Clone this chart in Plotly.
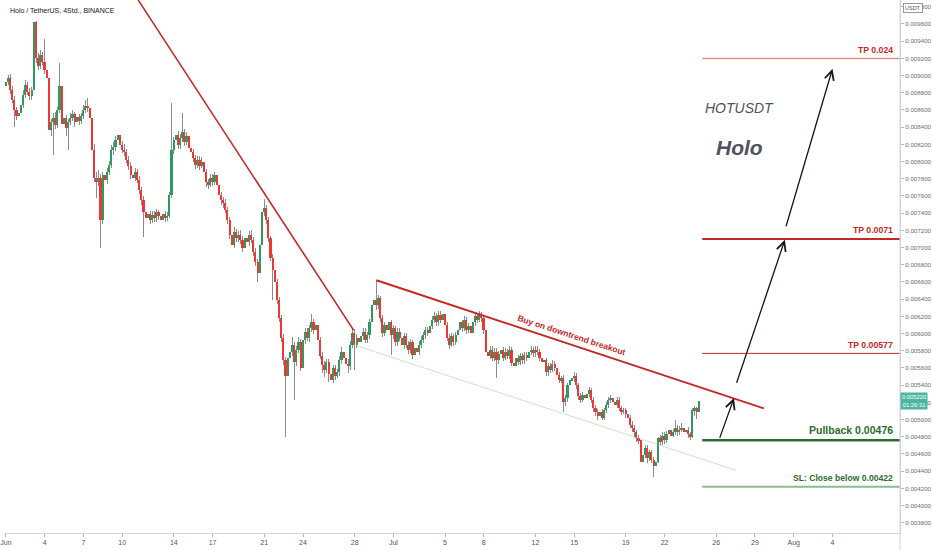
#
#   HOTUSDT 4h chart with trade idea drawings
#

import plotly.graph_objects as go
import pandas as pd

# -------- candle data (prices in 1e-6 USDT, 4h candles from 2021-06-01 00:00) -------- #
first_open = 8880

close = [
    8930, 8970, 8830, 8720, 8600, 8530,
    8570, 8660, 8770, 8890, 8810, 8760,
    8830, 9620, 9200, 9110, 9240, 9160,
    9060, 8970, 8370, 8460, 8510, 8430,
    8600, 8880, 8440, 8510, 8390, 8460,
    8510, 8550, 8460, 8520, 8470, 8530,
    8600, 8650, 8620, 8510, 8140, 7810,
    7760, 7810, 7320, 7840, 7790, 7880,
    7960, 8140, 8170, 8250, 8310, 8190,
    8140, 8110, 8020, 7950, 7840, 7810,
    7880, 7790, 7670, 7550, 7410, 7340,
    7390, 7320, 7380, 7340, 7410, 7370,
    7320, 7390, 7340, 7370, 7610, 8140,
    8250, 8310, 8190, 8270, 8340, 8230,
    8300, 8160, 8110, 8040, 7960, 8020,
    7950, 7990, 7880, 7760, 7730, 7810,
    7760, 7840, 7730, 7610, 7550, 7520,
    7440, 7320, 7150, 7030, 7180, 7110,
    7150, 7090, 7000, 7110, 7060, 7150,
    7090, 6950, 6830, 6710, 7030, 7410,
    7460, 7320, 7110, 6880, 6740, 6600,
    6390, 6180, 5950, 5690, 5510, 5720,
    5790, 5870, 5670, 5810, 5900, 5600,
    5920, 6020, 5950, 6060, 6130, 6040,
    6100, 5920, 5740, 5630, 5580, 5670,
    5530, 5460, 5600, 5510, 5550, 5690,
    5790, 5720, 5650, 5620, 5870, 6010,
    5870, 5950, 5900, 5970, 6020, 5930,
    5980, 6130, 6330, 6390, 6330, 6410,
    6180, 6010, 6100, 6040, 6130, 5980,
    6060, 5900, 6020, 5950, 5870, 5970,
    5870, 5810, 5900, 5750, 5830, 5790,
    5870, 5930, 5980, 6040, 6010, 6090,
    6160, 6200, 6130, 6220, 6160, 6230,
    6100, 5950, 5870, 5970, 5900, 5980,
    6040, 6130, 6060, 6160, 6040, 6090,
    6010, 6130, 6200, 6160, 6230, 6180,
    6040, 5790, 5740, 5810, 5720, 5790,
    5690, 5760, 5810, 5720, 5790, 5740,
    5810, 5660, 5620, 5720, 5670, 5740,
    5690, 5750, 5720, 5790, 5810, 5770,
    5810, 5790, 5720, 5670, 5690, 5550,
    5620, 5580, 5650, 5600, 5520, 5460,
    5480, 5200, 5250, 5400, 5460, 5480,
    5510, 5400, 5270, 5230, 5280, 5250,
    5300, 5340, 5230, 5130, 5090, 5040,
    5090, 5020, 5110, 5170, 5230, 5250,
    5200, 5170, 5230, 5130, 5090, 5110,
    5060, 5020, 4940, 4900, 4850, 4780,
    4760, 4510, 4590, 4670, 4550, 4620,
    4530, 4460, 4510, 4780, 4740, 4810,
    4760, 4830, 4880, 4810, 4850, 4900,
    4850, 4880, 4900, 4850, 4880, 4830,
    4800, 5110, 5130, 5090, 5220,
]

high = [
    9000, 9010, 9020, 8880, 8760, 8640,
    8610, 8700, 8830, 8950, 8920, 8850,
    8870, 9720, 9640, 9260, 9300, 9280,
    9420, 9110, 9000, 8500, 8560, 8580,
    8640, 9150, 8900, 8560, 8540, 8500,
    8560, 8600, 8580, 8560, 8550, 8570,
    8660, 8720, 8740, 8670, 8540, 8200,
    7880, 7900, 7850, 7880, 7900, 7930,
    8010, 8190, 8230, 8300, 8380, 8340,
    8240, 8200, 8150, 8060, 8000, 7900,
    7920, 7910, 7830, 7700, 7600, 7460,
    7430, 7420, 7420, 7430, 7450, 7440,
    7410, 7430, 7420, 7410, 7650, 8680,
    8290, 8370, 8350, 8320, 8560, 8380,
    8340, 8520, 8200, 8150, 8080, 8060,
    8060, 8050, 8030, 7910, 7800, 7860,
    7850, 7880, 7870, 7770, 7650, 7590,
    7560, 7470, 7350, 7210, 7240, 7220,
    7190, 7200, 7130, 7160, 7150, 7190,
    7200, 7120, 6990, 6870, 7060, 7630,
    7560, 7500, 7350, 7140, 6920, 6780,
    6640, 6430, 6220, 6000, 5730, 5760,
    5830, 5960, 5900, 5850, 5960, 5940,
    5960, 6070, 6060, 6100, 6230, 6170,
    6140, 6130, 5960, 5790, 5680, 5710,
    5700, 5580, 5640, 5630, 5590, 5740,
    5840, 5830, 5760, 5700, 5910, 6060,
    6050, 5990, 5990, 6010, 6070, 6060,
    6020, 6170, 6380, 6440, 6620, 6450,
    6440, 6220, 6140, 6150, 6170, 6160,
    6100, 6090, 6060, 6070, 5990, 6010,
    6010, 5910, 5940, 5930, 5870, 5860,
    5910, 5970, 6020, 6080, 6080, 6130,
    6200, 6250, 6240, 6260, 6260, 6360,
    6270, 6140, 5990, 6010, 6000, 6020,
    6080, 6170, 6160, 6200, 6190, 6120,
    6130, 6170, 6240, 6240, 6260, 6250,
    6220, 6080, 5830, 5850, 5850, 5830,
    5830, 5800, 5850, 5840, 5830, 5820,
    5850, 5840, 5700, 5760, 5750, 5780,
    5780, 5790, 5790, 5830, 5850, 5840,
    5850, 5860, 5820, 5750, 5730, 5720,
    5660, 5660, 5690, 5680, 5640, 5550,
    5510, 5520, 5290, 5430, 5500, 5550,
    5550, 5540, 5430, 5310, 5320, 5310,
    5330, 5380, 5370, 5260, 5170, 5120,
    5120, 5120, 5140, 5200, 5260, 5290,
    5570, 5230, 5260, 5260, 5160, 5140,
    5140, 5100, 5050, 4980, 4940, 4880,
    4820, 4790, 4620, 4700, 4700, 4650,
    4650, 4570, 4550, 4800, 4820, 4850,
    4850, 4870, 4940, 4920, 4890, 4990,
    4940, 4920, 4960, 4930, 4910, 4910,
    4860, 5140, 5160, 5150, 5240,
]

low = [
    8840, 8890, 8790, 8680, 8400, 8480,
    8470, 8530, 8620, 8740, 8780, 8720,
    8720, 8800, 9150, 9060, 9080, 9120,
    9020, 8930, 8020, 8300, 8080, 8380,
    8390, 8560, 8400, 8400, 8300, 8140,
    8420, 8470, 8400, 8420, 8430, 8440,
    8490, 8560, 8580, 8460, 8080, 7760,
    7580, 7720, 7000, 7280, 7720, 7740,
    7840, 7920, 8080, 8120, 8200, 8150,
    8100, 8060, 7980, 7900, 7800, 7740,
    7770, 7750, 7620, 7500, 7120, 7280,
    7290, 7270, 7290, 7300, 7300, 7320,
    7280, 7290, 7300, 7310, 7340, 7580,
    8090, 8200, 8150, 8150, 8230, 8180,
    8190, 8120, 8060, 7990, 7910, 7930,
    7900, 7920, 7840, 7700, 7680, 7700,
    7720, 7730, 7690, 7570, 7500, 7460,
    7400, 7280, 7100, 6900, 7000, 7060,
    7060, 7040, 6950, 6960, 7010, 7020,
    7050, 6900, 6790, 6600, 6680, 6990,
    7370, 7280, 7060, 6840, 6390, 6560,
    6340, 6130, 5900, 5640, 4800, 5480,
    5600, 5740, 5230, 5620, 5770, 5560,
    5560, 5880, 5910, 5900, 6020, 5990,
    6000, 5880, 5700, 5540, 5490, 5540,
    5440, 5320, 5420, 5460, 5480, 5510,
    5650, 5680, 5600, 5540, 5580, 5830,
    5580, 5830, 5860, 5870, 5930, 5890,
    5890, 5940, 6090, 6290, 6280, 6290,
    6140, 5960, 5970, 5990, 6000, 5750,
    5940, 5850, 5860, 5910, 5830, 5820,
    5830, 5760, 5780, 5700, 5710, 5740,
    5750, 5830, 5890, 5940, 5970, 5970,
    6050, 6120, 6090, 6090, 6120, 6130,
    6060, 5910, 5820, 5840, 5860, 5870,
    5940, 6000, 6020, 6030, 6000, 6010,
    5970, 5980, 6090, 6120, 6130, 6140,
    6000, 5750, 5690, 5700, 5680, 5680,
    5480, 5650, 5720, 5680, 5690, 5700,
    5700, 5620, 5550, 5580, 5630, 5640,
    5650, 5650, 5680, 5690, 5750, 5730,
    5730, 5750, 5680, 5620, 5640, 5510,
    5510, 5540, 5550, 5560, 5480, 5420,
    5420, 5090, 5160, 5210, 5360, 5430,
    5440, 5360, 5230, 5190, 5200, 5210,
    5210, 5260, 5190, 5090, 5040, 5000,
    5000, 4990, 4990, 5080, 5130, 5190,
    5160, 5130, 5140, 5100, 5050, 5060,
    5020, 4980, 4900, 4860, 4800, 4740,
    4720, 4410, 4470, 4550, 4500, 4520,
    4490, 4330, 4430, 4490, 4700, 4710,
    4720, 4730, 4800, 4770, 4800, 4820,
    4810, 4820, 4850, 4810, 4820, 4790,
    4760, 4780, 5040, 5010, 5080,
]

# -------- axis ticks -------- #
date_ticks = ["2021-06-01", "2021-06-04", "2021-06-07", "2021-06-10", "2021-06-14",
              "2021-06-17", "2021-06-21", "2021-06-24", "2021-06-28", "2021-07-01",
              "2021-07-05", "2021-07-08", "2021-07-12", "2021-07-15", "2021-07-19",
              "2021-07-22", "2021-07-26", "2021-07-29", "2021-08-01", "2021-08-04"]
date_labels = ["Jun", "4", "7", "10", "14", "17", "21", "24", "28", "Jul",
               "5", "8", "12", "15", "19", "22", "26", "29", "Aug", "4"]

# -------- drawings (time, price) -------- #
trend_down = [("2021-06-11 05:30", 0.00988), ("2021-06-27 22:00", 0.00604)]
trend_breakout = [("2021-06-29 16:30", 0.00662), ("2021-07-29 16:30", 0.00513)]
channel_low = [("2021-06-27 22:00", 0.00587), ("2021-07-27 13:00", 0.00441)]

level_start = "2021-07-24 22:00"
level_prices = [0.0092, 0.0071, 0.00577, 0.00476, 0.00422]
level_texts = ["TP 0.024", "TP 0.0071", "TP 0.00577", "Pullback 0.00476", "SL: Close below 0.00422"]
level_text_y = [0.00930, 0.00720, 0.00587, 0.00488, 0.00432]
level_colors = ["#e88a8a", "#c62828", "#c62828", "#2e6b2e", "#8dbb8d"]
level_text_colors = ["#c62828", "#c62828", "#c62828", "#2e6b2e", "#2e6b2e"]
level_widths = [1.5, 2, 1, 2.5, 2]
level_sizes = [8.7, 8.7, 8.7, 10.5, 8.6]

arrows = [
    (("2021-07-26 05:30", 0.00477), ("2021-07-27 09:00", 0.00525)),
    (("2021-07-27 13:00", 0.00541), ("2021-07-31 07:30", 0.00709)),
    (("2021-07-31 09:00", 0.00723), ("2021-08-04 00:00", 0.00908)),
]

x_range = ["2021-05-31 20:18", "2021-08-09 05:32"]
y_range = [0.003681, 0.009879]

FONT = "Liberation Sans, Arial, sans-serif"
RED = "#f03535"
GREEN = "#2e9b5e"


def main():
    scale = 1e-6
    t = pd.date_range("2021-06-01 00:00", periods=len(close), freq="4h")
    c = [v * scale for v in close]
    o = [first_open * scale] + c[:-1]
    h = [v * scale for v in high]
    l = [v * scale for v in low]

    body_base = [min(a, b) for a, b in zip(o, c)]
    body_len = [max(abs(a - b), 0.000004) for a, b in zip(o, c)]
    body_col = [GREEN if b >= a else RED for a, b in zip(o, c)]
    wick_len = [a - b for a, b in zip(h, l)]

    four_h = 4 * 3600 * 1000

    fig = go.Figure()
    # wicks
    fig.add_trace(go.Bar(x=t, y=wick_len, base=l, width=four_h * 0.35,
                         marker=dict(color="rgba(110,110,110,0.8)", line=dict(width=0)),
                         hoverinfo="skip", showlegend=False))
    # bodies
    fig.add_trace(go.Bar(x=t, y=body_len, base=body_base, width=four_h * 0.75,
                         marker=dict(color=body_col, line=dict(width=0)),
                         showlegend=False))

    # trend lines
    fig.add_shape(type="line", x0=trend_down[0][0], y0=trend_down[0][1],
                  x1=trend_down[1][0], y1=trend_down[1][1],
                  line=dict(color="#c62828", width=1.6))
    fig.add_shape(type="line", x0=trend_breakout[0][0], y0=trend_breakout[0][1],
                  x1=trend_breakout[1][0], y1=trend_breakout[1][1],
                  line=dict(color="#c62828", width=2))
    fig.add_shape(type="line", x0=channel_low[0][0], y0=channel_low[0][1],
                  x1=channel_low[1][0], y1=channel_low[1][1],
                  line=dict(color="rgba(130,200,130,0.45)", width=1))

    fig.add_annotation(x="2021-07-14 18:30", y=0.00598, text="<b>Buy on downtrend breakout</b>",
                       showarrow=False, textangle=18,
                       font=dict(family=FONT, size=8.5, color="#c62828"))

    # target / stop levels
    for p, txt, ty, lc, tc, w, s in zip(level_prices, level_texts, level_text_y,
                                         level_colors, level_text_colors, level_widths, level_sizes):
        fig.add_shape(type="line", x0=level_start, x1=x_range[1], y0=p, y1=p,
                      line=dict(color=lc, width=w))
        fig.add_annotation(xref="paper", x=897 / 902, xanchor="right", y=ty, yanchor="middle",
                           text="<b>" + txt + "</b>", showarrow=False,
                           font=dict(family=FONT, size=s, color=tc))

    for tail, head in arrows:
        fig.add_annotation(x=head[0], y=head[1], ax=tail[0], ay=tail[1],
                           axref="x", ayref="y", xref="x", yref="y", text="",
                           showarrow=True, arrowhead=5, arrowsize=1.4, arrowwidth=1.3,
                           arrowcolor="#131722")

    fig.add_annotation(x="2021-07-27 18:30", y=0.00862, text="HOTUSDT", showarrow=False,
                       font=dict(family=FONT, size=14, color="#50535e", style="italic"))
    fig.add_annotation(x="2021-07-27 20:00", y=0.00816, text="<b>Holo</b>", showarrow=False,
                       font=dict(family=FONT, size=21, color="#50535e", style="italic"))

    # header and price axis boxes
    fig.add_annotation(xref="paper", yref="paper", x=0.004, y=1, xanchor="left", yanchor="top",
                       yshift=-5, text="Holo / TetherUS, 4Std., BINANCE", showarrow=False,
                       font=dict(family=FONT, size=7, color="#131722"))
    fig.add_annotation(xref="paper", yref="paper", x=1, y=1, xanchor="left", yanchor="top",
                       xshift=3, yshift=-3, text="USDT", showarrow=False,
                       bgcolor="white", bordercolor="#9598a1", borderwidth=1, borderpad=1,
                       font=dict(family=FONT, size=5.5, color="#50535e"))
    fig.add_annotation(xref="paper", x=1, y=close[-1] * scale, xanchor="left", yanchor="middle",
                       text="0.005220<br>01:26:31", showarrow=False, bgcolor="#4db6a0",
                       borderpad=1, font=dict(family=FONT, size=5.8, color="white"))

    fig.add_shape(type="line", xref="paper", yref="paper", x0=1, x1=1, y0=-0.04, y1=1,
                  line=dict(color="#d1d4dc", width=1))

    fig.update_layout(
        width=932, height=550,
        margin=dict(l=0, r=30, t=0, b=17),
        paper_bgcolor="white", plot_bgcolor="white",
        barmode="overlay", bargap=0,
        showlegend=False,
        xaxis=dict(
            type="date", range=x_range,
            tickvals=date_ticks, ticktext=date_labels,
            ticks="outside", ticklen=3, tickcolor="#b2b5be",
            ticklabeloverflow="allow",
            showgrid=False, zeroline=False,
            showline=True, linecolor="#d1d4dc", linewidth=1,
            tickfont=dict(family=FONT, size=7, color="#50535e"),
            rangeslider=dict(visible=False),
        ),
        yaxis=dict(
            side="right", range=y_range,
            tick0=0.0038, dtick=0.0002, tickformat=".6f",
            ticks="outside", ticklen=3, tickcolor="#b2b5be",
            showgrid=False, zeroline=False,
            showline=True, linecolor="#d1d4dc", linewidth=1,
            tickfont=dict(family=FONT, size=6.2, color="#6a6d78"),
        ),
    )

    # page body margin would shift the figure inside the 932x550 window
    fig.write_html("out.html", config={"displayModeBar": False},
                   post_script="document.body.style.margin='0';")


if __name__ == "__main__":
    main()
